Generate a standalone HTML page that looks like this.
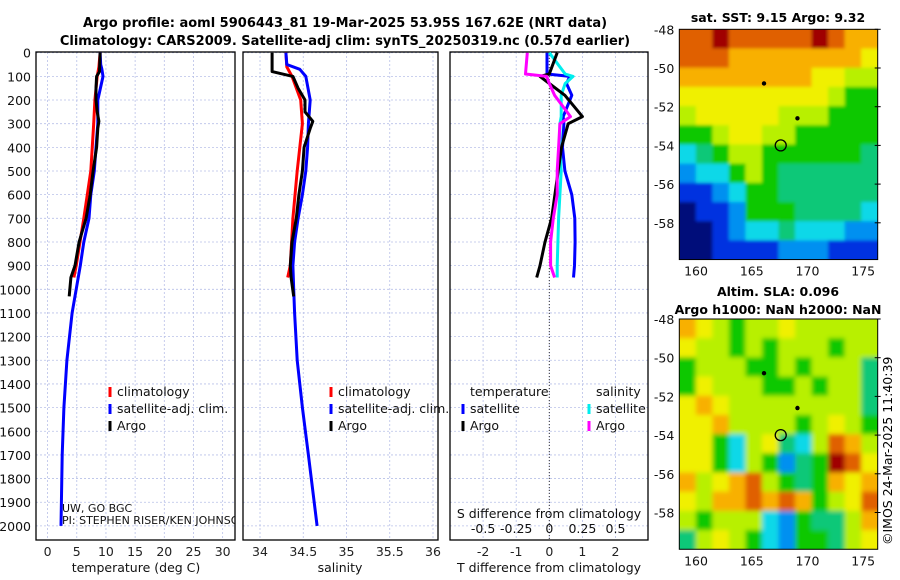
<!DOCTYPE html>
<html><head><meta charset="utf-8"><style>
body{margin:0;background:#fff;}
svg{display:block;font-family:"DejaVu Sans","Liberation Sans",sans-serif;}
</style></head><body>
<svg id="s" width="900" height="580" xmlns="http://www.w3.org/2000/svg">
<defs>
<filter id="b1" x="-5%" y="-5%" width="110%" height="110%"><feGaussianBlur stdDeviation="1.5"/></filter>
<filter id="b2" x="-5%" y="-5%" width="110%" height="110%"><feGaussianBlur stdDeviation="2.5"/></filter>
<clipPath id="m1"><rect x="679.3" y="29.3" width="198.4" height="230.6"/></clipPath>
<clipPath id="m2"><rect x="679.3" y="319" width="198.4" height="230.6"/></clipPath>
</defs>
<text x="345" y="27" font-size="13" font-weight="bold" text-anchor="middle">Argo profile: aoml 5906443_81 19-Mar-2025 53.95S 167.62E (NRT data)</text>
<text x="345" y="45" font-size="13" font-weight="bold" text-anchor="middle">Climatology: CARS2009. Satellite-adj clim: synTS_20250319.nc (0.57d earlier)</text>
<text x="778" y="22" font-size="12.5" font-weight="bold" text-anchor="middle">sat. SST: 9.15 Argo: 9.32</text>
<text x="778" y="296" font-size="12.5" font-weight="bold" text-anchor="middle">Altim. SLA: 0.096</text>
<text x="778" y="314" font-size="12.5" font-weight="bold" text-anchor="middle">Argo h1000: NaN h2000: NaN</text>
<text transform="translate(892,545) rotate(-90)" font-size="12.5">©IMOS 24-Mar-2025 11:40:39</text>
<g id="g"></g>
</svg>
<script>
// ---- data ----
const depthTicks=[0,100,200,300,400,500,600,700,800,900,1000,1100,1200,1300,1400,1500,1600,1700,1800,1900,2000];
const tTicks=[0,5,10,15,20,25,30];
const sTicks=[34,34.5,35,35.5,36];
const dtTicks=[-2,-1,0,1,2];
const dsTicks=[-0.5,-0.25,0,0.25,0.5];
const dsTickLabels=["-0.5","-0.25","0","0.25","0.5"];
const argoDepth=[0,80,100,150,200,250,290,320,400,500,600,700,800,900,950,1030];
const argoT=[9.0,8.9,8.4,8.3,8.3,8.5,8.8,8.6,8.4,7.8,7.3,6.6,5.4,4.7,4.0,3.7];
const argoS=[34.14,34.14,34.38,34.44,34.52,34.52,34.61,34.58,34.51,34.49,34.45,34.42,34.37,34.35,34.36,34.39];
const climDepth=[0,60,100,200,300,500,700,900,950];
const climT=[9.0,8.8,8.5,8.1,7.9,7.4,6.2,4.9,4.5];
const climS=[34.30,34.31,34.37,34.47,34.49,34.43,34.38,34.35,34.32];
const satDepth=[0,50,70,100,200,300,400,500,600,700,800,900,1000,1100,1300,1500,1700,2000];
const satT=[9.0,9.1,9.3,9.5,8.6,8.6,8.3,8.0,7.4,7.1,6.2,5.6,4.9,4.2,3.3,2.8,2.5,2.3];
const satS=[34.30,34.31,34.46,34.53,34.58,34.56,34.55,34.53,34.49,34.44,34.40,34.38,34.39,34.40,34.43,34.49,34.56,34.66];
const dDepth=[0,90,100,130,180,270,300,400,500,600,700,800,900,950];
const dArgoT=[0.24,0.0,-0.28,0.0,0.47,1.0,0.57,0.37,0.27,0.17,0.07,-0.13,-0.28,-0.38];
const dArgoS=[-0.166,-0.18,-0.02,0.0,0.04,0.16,0.08,0.07,0.06,0.06,0.03,0.01,0.01,0.04];
const dSatT=[-0.07,-0.07,0.62,0.52,0.68,0.42,0.44,0.40,0.47,0.68,0.77,0.78,0.76,0.73];
const dSatS=[0.0,0.12,0.18,0.12,0.09,0.09,0.08,0.08,0.09,0.08,0.07,0.065,0.06,0.06];
const lonTicks=[160,165,170,175];
const latTicks=[-48,-50,-52,-54,-56,-58];
const sstGrid=[
[9,9,10,9,9,9,9,9,10,9,8,8],[9,9,9,8,8,8,8,8,8,8,8,7],[8,8,8,8,8,8,8,8,7,7,6,6],
[7,7,7,7,7,7,7,7,7,6,5,5],[6,7,7,7,7,7,6,6,6,5,5,5],[5,5,6,7,7,6,6,5,5,5,5,5],
[3,4,5,6,6,5,5,5,5,5,5,4],[2,3,3,5,6,5,4,4,4,4,4,4],[1,1,2,3,5,5,4,4,4,4,4,4],
[0,1,1,2,5,5,5,4,4,4,4,3],[0,0,1,2,3,3,4,3,3,3,2,2],[0,0,1,1,1,1,2,2,2,1,1,1]];
const slaGrid=[
[8,7,6,5,6,6,7,6,6,6,6,6],[7,6,6,5,6,5,6,6,6,5,6,6],[5,6,6,6,5,5,6,5,6,6,6,4],
[5,7,6,6,6,5,5,6,5,6,6,4],[7,8,7,6,6,6,6,6,6,6,6,4],[7,7,8,6,6,6,6,5,6,7,6,5],
[7,7,5,3,6,7,4,3,6,9,8,6],[7,7,5,3,6,5,2,4,5,10,9,7],[8,6,7,8,9,6,5,4,5,8,7,8],
[7,6,8,8,9,8,9,8,5,6,7,9],[6,5,6,6,6,3,2,5,4,4,6,8],[4,6,7,6,5,3,2,5,5,4,6,7]];
const floatLon=[166.1,169.1]; const floatLat=[-50.8,-52.6];
const profLon=[167.6]; const profLat=[-54.0];

// ---- helpers ----
const NS="http://www.w3.org/2000/svg", G=document.getElementById('g');
function mk(tag,at,parent){const e=document.createElementNS(NS,tag);for(const k in at)e.setAttribute(k,at[k]);(parent||G).appendChild(e);return e;}
const yD=d=>52.7+d*0.2366;
const PB=540;
const xT=v=>47.6+v*5.835, xS=v=>260+(v-34)*86.5, xDT=v=>549.3+v*33.1, xDS=v=>549.3+v*132.4;
function panel(x0,x1,xf,ticks,labels,name){
  for(const d of depthTicks){const l=mk('line',{x1:x0,x2:x1,y1:yD(d),y2:yD(d),stroke:'#b8c0e8','stroke-width':0.8,'stroke-dasharray':'2,2'});
    }
  ticks.forEach((t,i)=>{const x=xf(t);const l=mk('line',{x1:x,x2:x,y1:52,y2:PB,stroke:'#b8c0e8','stroke-width':0.8,'stroke-dasharray':'2,2'});
    
    const tx=mk('text',{x:x,y:556,'font-size':12.5,'text-anchor':'middle',fill:'#222'});tx.textContent=labels[i];
    });
  const r=mk('rect',{x:x0,y:52,width:x1-x0,height:PB-52,fill:'none',stroke:'#000','stroke-width':1.3});
  
}
function line(xs,ds,xf,col,name,w){const p=xs.map((v,i)=>xf(v).toFixed(1)+','+yD(ds[i]).toFixed(1)).join(' ');
  const e=mk('polyline',{points:p,fill:'none',stroke:col,'stroke-width':w||3,'stroke-linejoin':'round'});
  }
function txt(x,y,s,name,extra){const e=mk('text',Object.assign({x:x,y:y,'font-size':12.5,fill:'#111'},extra||{}));e.textContent=s;
  return e;}
function legend(x,y,col,s,name){const m=mk('line',{x1:x,x2:x,y1:y-9,y2:y+1,stroke:col,'stroke-width':3});
  txt(x+7,y,s,name);}

for(const d of depthTicks){txt(31,yD(d)+5,String(d),'depth-tick-label',{'text-anchor':'end'});}
panel(36,235,xT,tTicks,tTicks.map(String),'temperature');
panel(243,438,xS,sTicks,sTicks.map(String),'salinity');
panel(450,648,xDT,dtTicks,dtTicks.map(String),'t-diff');
const z=mk('line',{x1:xDT(0),x2:xDT(0),y1:52,y2:PB,stroke:'#333','stroke-width':1,'stroke-dasharray':'1,2'});

line(climT,climDepth,xT,'#f00','temp-climatology');
line(satT,satDepth,xT,'#00f','temp-satellite-adj');
line(argoT,argoDepth,xT,'#000','temp-argo');
line(climS,climDepth,xS,'#f00','sal-climatology');
line(satS,satDepth,xS,'#00f','sal-satellite-adj');
line(argoS,argoDepth,xS,'#000','sal-argo');
line(dSatT,dDepth,xDT,'#00f','tdiff-satellite');
line(dSatS,dDepth,xDS,'#0ee','sdiff-satellite');
line(dArgoT,dDepth,xDT,'#000','tdiff-argo');
line(dArgoS,dDepth,xDS,'#f0f','sdiff-argo');
legend(110,396,'#f00','climatology','legend-climatology');
legend(110,413,'#00f','satellite-adj. clim.','legend-satellite-adj');
legend(110,430,'#000','Argo','legend-argo');
legend(331,396,'#f00','climatology','legend2-climatology');
legend(331,413,'#00f','satellite-adj. clim.','legend2-satellite-adj');
legend(331,430,'#000','Argo','legend2-argo');
txt(470,396,'temperature','legend3-temperature-header');
txt(596,396,'salinity','legend3-salinity-header');
legend(463,413,'#00f','satellite','legend3-t-satellite');
legend(463,430,'#000','Argo','legend3-t-argo');
legend(589,413,'#0ee','satellite','legend3-s-satellite');
legend(589,430,'#f0f','Argo','legend3-s-argo');
txt(62,512,'UW, GO BGC','pi-institution',{'font-size':11});
const cp=mk('clipPath',{id:'c1'});mk('rect',{x:36,y:500,width:199,height:40},cp);
txt(62,524,'PI: STEPHEN RISER/KEN JOHNSON','pi-names',{'font-size':11,'clip-path':'url(#c1)'});
txt(549,518,'S difference from climatology','s-diff-axis-title',{'text-anchor':'middle'});
dsTicks.forEach((v,i)=>txt(xDS(v),533,dsTickLabels[i],'s-diff-tick-label',{'text-anchor':'middle'}));
txt(136,572,'temperature (deg C)','temperature-axis-title',{'text-anchor':'middle'});
txt(340,572,'salinity','salinity-axis-title',{'text-anchor':'middle'});
txt(549,572,'T difference from climatology','t-diff-axis-title',{'text-anchor':'middle'});

// maps
const pal=['#00107a','#0030e0','#0090f0','#10d8e8','#10c878','#10c800','#b8f000','#f0f000','#f8b000','#e06000','#a00000'];
function map(grid,y0,name,filt,clip){
  const x0=679.3,x1=877.7,lonA=158.5,lonB=176.3,latTop=-48,pxLat=19.35;
  const xL=l=>x0+(l-lonA)*(x1-x0)/(lonB-lonA), yL=l=>y0+(latTop-l)*pxLat;
  const y1=yL(-59.9);const rows=grid.length,cols=grid[0].length;
  const cw=(x1-x0)/cols,ch=(y1-y0)/rows;
  const cg=mk('g',{'clip-path':'url(#'+clip+')'});
  
  const hg=mk('g',{filter:'url(#'+filt+')'},cg);
  grid.forEach((row,i)=>row.forEach((v,j)=>{
    const ex=(j==0?-12:0),ey=(i==0?-12:0),ew=(j==cols-1?12:0)-ex,eh=(i==rows-1?12:0)-ey;
    const r=mk('rect',{x:(x0+j*cw+ex).toFixed(2),y:(y0+i*ch+ey).toFixed(2),width:(cw+0.6+ew).toFixed(2),height:(ch+0.6+eh).toFixed(2),fill:pal[v]},hg);
    }));
  const f=mk('rect',{x:x0,y:y0,width:x1-x0,height:y1-y0,fill:'none',stroke:'#000','stroke-width':1});
  
  lonTicks.forEach(l=>txt(xL(l),y1+16,String(l),name+'-lon-label',{'text-anchor':'middle'}));
  latTicks.forEach(l=>{txt(x0-5,yL(l)+5,String(l),name+'-lat-label',{'text-anchor':'end'});
    const t=mk('line',{x1:x1-3,x2:x1+3,y1:yL(l),y2:yL(l),stroke:'#000'});});
  floatLon.forEach((l,i)=>{const c=mk('circle',{cx:xL(l),cy:yL(floatLat[i]),r:2.2,fill:'#000'});
    });
  profLon.forEach((l,i)=>{const c=mk('circle',{cx:xL(l),cy:yL(profLat[i]),r:5.5,fill:'none',stroke:'#000','stroke-width':1.3});
    });
}
map(sstGrid,29.3,'sst-map','b1','m1');
map(slaGrid,319,'sla-map','b2','m2');
</script>
</body></html>
